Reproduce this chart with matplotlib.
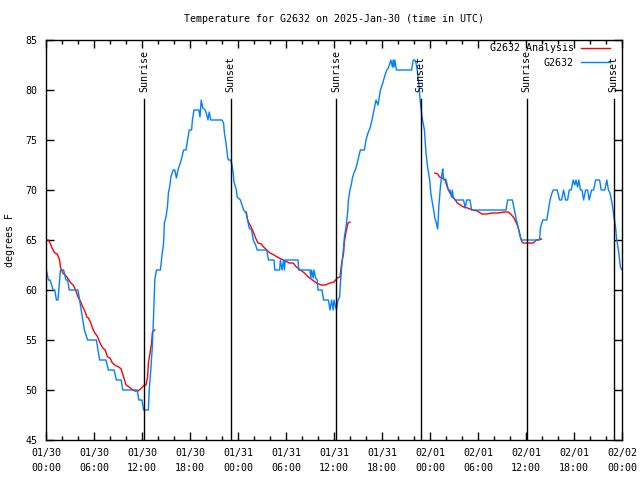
import numpy as np
import matplotlib
matplotlib.use("Agg")
import matplotlib.pyplot as plt

# ---------------- data ----------------
title = "Temperature for G2632 on 2025-Jan-30 (time in UTC)"
ylabel = "degrees F"

# hours since 2025-01-30 00:00 UTC
blue_h = [0.05, 0.3, 0.5, 0.9, 1.1, 1.3, 1.5, 1.6, 1.8, 2.2, 2.5, 2.7, 2.9, 4.0, 4.2, 4.4, 4.6, 4.8,
          5.0, 5.2, 6.3, 6.5, 6.7, 7.5, 7.8, 8.5, 8.8, 9.4, 9.6, 11.4, 11.6, 12.0, 12.2, 12.8, 12.9,
          13.1, 13.3, 13.45, 13.6, 13.8, 14.3, 14.5, 14.7, 14.8, 15.0, 15.2, 15.3, 15.5, 15.6, 15.9,
          16.1, 16.3, 16.5, 16.9, 17.2, 17.5, 17.7, 17.9, 18.2, 18.3, 18.5, 19.1, 19.25, 19.4, 19.6,
          19.9, 20.1, 20.25, 20.4, 20.6, 22.0, 22.2, 22.3, 22.5, 22.7, 22.8, 23.1, 23.2, 23.4, 23.5,
          23.8, 23.9, 24.3, 24.5, 24.7, 25.0, 25.2, 25.4, 25.7, 25.9, 26.2, 26.4, 27.6, 27.8, 28.5,
          28.6, 29.2, 29.3, 29.5, 29.7, 29.8, 29.9, 31.5, 31.6, 33.0, 33.1, 33.2, 33.4, 33.5, 33.7,
          33.9, 34.0, 34.5, 34.7, 35.3, 35.5, 35.7, 35.9, 36.0, 36.3, 36.5, 36.7, 36.8, 36.96, 37.2,
          37.3, 37.5, 37.7, 37.8, 38.0, 38.2, 38.3, 38.5, 38.75, 39.0, 39.2, 39.3, 39.8, 40.0, 40.25,
          40.5, 40.75, 41.0, 41.25, 41.4, 41.5, 41.6, 41.8, 42.1, 42.3, 42.6, 42.8, 43.0, 43.1, 43.3,
          43.4, 43.5, 43.6, 43.8, 45.7, 45.9, 46.1, 46.25, 46.4, 46.6, 46.8, 47.0, 47.3, 47.5, 47.7,
          47.96, 48.1, 48.3, 48.5, 48.6, 48.8, 48.96, 49.1, 49.3, 49.5, 49.6, 49.7, 49.96, 50.1, 50.3,
          50.5, 50.7, 50.8, 50.9, 51.1, 52.2, 52.4, 52.6, 53.0, 53.2, 57.5, 57.7, 58.3, 58.5, 58.8,
          59.1, 59.4, 61.7, 61.8, 62.1, 62.6, 62.8, 63.0, 63.25, 63.4, 63.9, 64.2, 64.45, 64.7, 64.95,
          65.2, 65.4, 65.65, 65.9, 66.1, 66.25, 66.45, 66.6, 66.8, 67.0, 67.2, 67.45, 67.7, 67.9,
          68.2, 68.45, 68.7, 69.2, 69.4, 69.85, 70.1, 70.3, 70.5, 70.75, 71.0, 71.2, 71.3, 71.6,
          71.8, 72.0]
blue_t = [62, 61, 61, 60, 60, 59, 59, 60, 62, 62, 61, 61, 60, 60, 59, 58, 57, 56,
          55.5, 55, 55, 54, 53, 53, 52, 52, 51, 51, 50, 50, 49, 49, 48, 48, 50,
          52, 54.5, 57.5, 61, 62, 62, 63.5, 64.7, 66.7, 67.3, 68.5, 69.7, 70.5, 71.3, 72,
          72, 71.2, 72, 73, 74, 74, 75, 76, 76, 77, 78, 78, 77.3, 79, 78.2,
          78, 77.5, 77, 77.8, 77, 77, 76.7, 75.7, 74.7, 73.3, 73, 73, 72.7, 71.7, 70.8,
          70, 69.3, 69, 68.5, 68, 67.7, 67, 66.2, 66, 65, 64.5, 64, 64, 63, 63,
          62, 62, 63, 62, 63, 62, 63, 63, 62, 62, 61.2, 62, 61.2, 62, 61.2,
          61, 60, 60, 59, 59, 58, 59, 58, 59, 58, 59, 59.3, 60.7, 62.3, 64.3,
          65.3, 66.3, 67.7, 69, 70, 70.7, 71.2, 71.7, 72.2, 73, 73.7, 74, 74, 75, 75.7,
          76.2, 77, 78, 79, 78.7, 78.5, 79, 80, 80.7, 81.3, 82, 82.2, 82.7, 83, 82.3,
          83, 82.3, 83, 82, 82, 83, 83, 82.7, 82, 80.7, 78.7, 77.3, 76, 73.7, 72.3,
          71, 69.7, 68.7, 67.8, 67.2, 66.7, 66.1, 68.3, 70.3, 71.7, 72.1, 71, 71.1, 70.7, 70,
          70, 69.3, 70, 69.3, 69, 69, 68.2, 69, 69, 68, 68, 69, 69, 68.2, 67,
          66, 65, 65, 66.2, 67, 67, 68, 69, 69.7, 70, 70, 69, 69, 70, 69,
          69, 70, 70, 71, 70.5, 71, 70.3, 71, 70, 70, 69, 70, 70, 69,
          70, 70, 71, 71, 70, 70, 71, 70, 69.7, 68.7, 67.3, 66.3, 65.3, 63.7,
          62.3, 62]

# analysis series, NaN marks gaps between segments
red_h = [0.08, 0.3, 0.5, 0.75, 1.1, 1.4, 1.7, 1.8, 2.1, 2.4, 2.7, 3.1, 3.4, 3.7, 4.0, 4.3, 4.6,
         4.8, 5.1, 5.3, 5.6, 5.8, 6.1, 6.4, 6.75, 7.1, 7.4, 7.7, 8.0, 8.3, 8.6, 9.1, 9.4, 9.7,
         10.0, 10.4, 10.7, 11.1, 11.5, 11.8, 12.3, 12.5, 12.7, 12.8, 13.0, 13.2, 13.3, 13.6,
         np.nan,
         25.04, 25.2, 25.5, 25.7, 25.96, 26.2, 26.5, 26.9, 27.2, 27.6, 28.0, 28.5, 28.9, 29.4,
         29.9, 30.4, 30.9, 31.3, 31.8, 32.3, 32.8, 33.3, 33.8, 34.4, 34.9, 35.5, 36.0, 36.4,
         36.75, 36.96, 37.2, 37.3, 37.5, 37.75, 38.0,
         np.nan,
         48.6, 48.96, 49.2, 49.5, 49.9, 50.1, 50.3, 50.5, 50.8, 51.1, 51.4, 51.8, 52.2, 52.7,
         53.3, 53.9, 54.5, 55.1, 55.8, 56.5, 57.3, 57.8, 58.2, 58.5, 58.8, 59.0, 59.3, 59.5,
         59.7, 59.9, 60.3, 60.9, 61.3, 61.95]
red_t = [65, 65, 64.7, 64.2, 63.7, 63.6, 63, 62.3, 61.7, 61.5, 61.2, 60.7, 60.5, 60, 59.3, 58.9, 58.3,
         58, 57.3, 57.2, 56.7, 56.2, 55.7, 55.4, 54.7, 54.2, 54, 53.3, 53.2, 52.7, 52.5, 52.3, 52.1, 51.3,
         50.5, 50.3, 50.1, 49.9, 49.9, 50.1, 50.5, 50.5, 51.3, 52.7, 53.7, 54.7, 55.8, 56,
         np.nan,
         67.8, 67, 66.5, 66.2, 65.7, 65.2, 64.7, 64.6, 64.3, 64, 63.7, 63.5, 63.3, 63.1,
         62.9, 62.7, 62.7, 62.3, 62, 61.7, 61.3, 61, 60.7, 60.5, 60.5, 60.7, 60.8, 61.2,
         61.3, 62.7, 63.7, 64.8, 65.8, 66.7, 66.8,
         np.nan,
         71.7, 71.6, 71.3, 71.2, 71, 70.4, 70, 69.7, 69.3, 69.1, 68.7, 68.5, 68.3, 68.2,
         68, 67.9, 67.6, 67.6, 67.7, 67.7, 67.8, 67.8, 67.5, 67.2, 66.7, 66.3, 65.3, 64.8,
         64.7, 64.7, 64.7, 64.7, 65, 65.1]

sun_h = [12.25, 23.1, 36.25, 46.85, 60.1, 70.95]
sun_labels = ["Sunrise", "Sunset", "Sunrise", "Sunset", "Sunrise", "Sunset"]

xtick_h = [0, 6, 12, 18, 24, 30, 36, 42, 48, 54, 60, 66, 72]
xtick_labels = ["01/30\n00:00", "01/30\n06:00", "01/30\n12:00", "01/30\n18:00",
                "01/31\n00:00", "01/31\n06:00", "01/31\n12:00", "01/31\n18:00",
                "02/01\n00:00", "02/01\n06:00", "02/01\n12:00", "02/01\n18:00",
                "02/02\n00:00"]
ytick_vals = [45, 50, 55, 60, 65, 70, 75, 80, 85]

# ---------------- plot ----------------
plt.rcParams['font.family'] = ['DejaVu Sans Mono']
FS = 7.2

fig = plt.figure(figsize=(6.4, 4.8), dpi=100)
ax = fig.add_axes([46 / 640, 40 / 480, 576 / 640, 400 / 480])

ax.plot(red_h, red_t, color='#ff0000', lw=1, label='G2632 Analysis')
ax.plot(blue_h, blue_t, color='#0080ff', lw=1, label='G2632')

for h, lab in zip(sun_h, sun_labels):
    ax.plot([h, h], [45, 79.1], color='black', lw=1)
    ax.text(h, 79.8, lab, rotation=90, ha='center', va='bottom', fontsize=FS)

ax.set_xlim(0, 72)
ax.set_ylim(45, 85)
ax.set_xticks(xtick_h)
ax.set_xticklabels(xtick_labels, fontsize=FS, linespacing=1.55)
ax.set_xticks(np.arange(0, 73, 2), minor=True)
ax.set_yticks(ytick_vals)
ax.set_yticklabels([str(v) for v in ytick_vals], fontsize=FS)
ax.tick_params(which='major', direction='in', length=6, width=1, top=True, right=True)
ax.tick_params(which='minor', direction='in', length=3, width=1, top=True, right=True)
ax.tick_params(axis='y', pad=6)
ax.tick_params(axis='x', pad=6)
for s in ax.spines.values():
    s.set_linewidth(1)

fig.text(334 / 640, 1 - 19 / 480, title, ha='center', va='center', fontsize=FS)
fig.text(10 / 640, 0.5, ylabel, rotation=90, ha='center', va='center', fontsize=FS)

ax.legend(loc='upper right', bbox_to_anchor=(610 / 640, 1 - 43 / 480),
          bbox_transform=fig.transFigure, frameon=False, markerfirst=False,
          fontsize=FS, handlelength=2.9, handletextpad=0.7, labelspacing=0.45,
          borderpad=0, borderaxespad=0)

fig.savefig('out.png', dpi=100)
